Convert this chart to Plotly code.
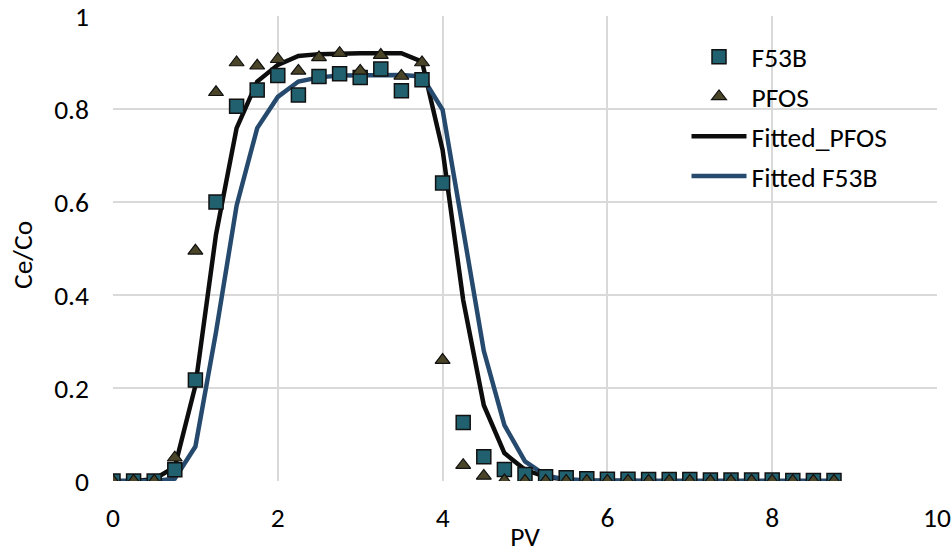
import plotly.graph_objects as go

pv = [0, 0.25, 0.5, 0.75, 1.0, 1.25, 1.5, 1.75, 2.0, 2.25, 2.5, 2.75, 3.0, 3.25, 3.5, 3.75,
      4.0, 4.25, 4.5, 4.75, 5.0, 5.25, 5.5, 5.75, 6.0, 6.25, 6.5, 6.75, 7.0, 7.25, 7.5, 7.75,
      8.0, 8.25, 8.5, 8.75]

f53b = [0, 0, 0, 0.024, 0.217, 0.600, 0.806, 0.841, 0.872, 0.830, 0.870, 0.876, 0.868, 0.886,
        0.839, 0.863, 0.641, 0.126, 0.052, 0.025, 0.014, 0.009, 0.007, 0.005, 0.004, 0.004,
        0.003, 0.003, 0.003, 0.002, 0.002, 0.002, 0.002, 0.001, 0.001, 0.001]

pfos = [0, 0, 0, 0.050, 0.495, 0.836, 0.900, 0.893, 0.907, 0.882, 0.911, 0.920, 0.882, 0.916,
        0.871, 0.900, 0.260, 0.034, 0.011, 0.001, 0, 0, 0, 0, 0, 0, 0, 0, 0, 0, 0, 0, 0, 0, 0, 0]

fitted_pfos = [0, 0, 0.004, 0.030, 0.205, 0.530, 0.759, 0.859, 0.895, 0.914, 0.918, 0.920, 0.920,
               0.920, 0.920, 0.902, 0.712, 0.389, 0.163, 0.060, 0.024, 0.009, 0.003, 0.001, 0, 0,
               0, 0, 0, 0, 0, 0, 0, 0, 0, 0]

fitted_f53b = [0, 0, 0, 0.005, 0.074, 0.320, 0.592, 0.759, 0.826, 0.859, 0.868, 0.872, 0.873,
               0.873, 0.873, 0.870, 0.798, 0.540, 0.280, 0.120, 0.042, 0.012, 0.003, 0.001, 0, 0,
               0, 0, 0, 0, 0, 0, 0, 0, 0, 0]

FONT = "Calibri, Carlito, Lato, sans-serif"
FS = 27.5

fig = go.Figure()
fig.add_trace(go.Scatter(x=pv, y=fitted_pfos, mode="lines", name="Fitted_PFOS",
                         line=dict(color="#0d0d0d", width=4.5), legendrank=3, legendgroup="c"))
fig.add_trace(go.Scatter(x=pv, y=fitted_f53b, mode="lines", name="Fitted F53B",
                         line=dict(color="#264a6e", width=4.5), legendrank=4, legendgroup="d"))
fig.add_trace(go.Scatter(x=pv, y=f53b, mode="markers", name="F53B",
                         marker=dict(symbol="square", size=14, color="#21606f",
                                     line=dict(color="#111111", width=1.5)),
                         legendrank=1, legendgroup="a"))
fig.add_trace(go.Scatter(x=pv, y=pfos, mode="markers", name="PFOS",
                         marker=dict(symbol="triangle-up", size=13, color="#4a4529",
                                     line=dict(color="#111111", width=1.2)),
                         legendrank=2, legendgroup="b"))

fig.update_layout(
    width=952, height=553,
    margin=dict(l=113, r=15, t=16, b=72),
    plot_bgcolor="white", paper_bgcolor="white",
    font=dict(family=FONT, size=FS, color="#000000"),
    showlegend=True,
    legend=dict(x=0.696, y=0.965, xanchor="left", yanchor="top",
                bgcolor="rgba(0,0,0,0)", font=dict(size=FS, family=FONT),
                itemwidth=55, tracegroupgap=1, traceorder="grouped"),
    xaxis=dict(range=[0, 10], dtick=2, tick0=0, showgrid=True, gridcolor="#d9d9d9",
               gridwidth=2, zeroline=False, showline=False, ticks="", automargin=False,
               ticklabeloverflow="allow",
               ticklabelstandoff=17, tickfont=dict(size=FS, family=FONT),
               title=dict(text="PV", font=dict(size=FS, family=FONT), standoff=0)),
    yaxis=dict(range=[0, 1], dtick=0.2, tick0=0, showgrid=True, gridcolor="#d9d9d9",
               gridwidth=2, zeroline=False, showline=False, ticks="", automargin=False,
               ticklabeloverflow="allow",
               ticklabelstandoff=23, tickfont=dict(size=FS, family=FONT),
               tickvals=[0, 0.2, 0.4, 0.6, 0.8, 1.0],
               ticktext=["0", "0.2", "0.4", "0.6", "0.8", "1"]),
    annotations=[
        dict(text="Ce/Co", xref="paper", yref="paper", x=(23 - 113) / 824, y=(481 - 255) / 465,
             xanchor="center", yanchor="middle", showarrow=False, textangle=-90,
             font=dict(size=FS, family=FONT)),
    ],
)

fig.write_html("out.html")
